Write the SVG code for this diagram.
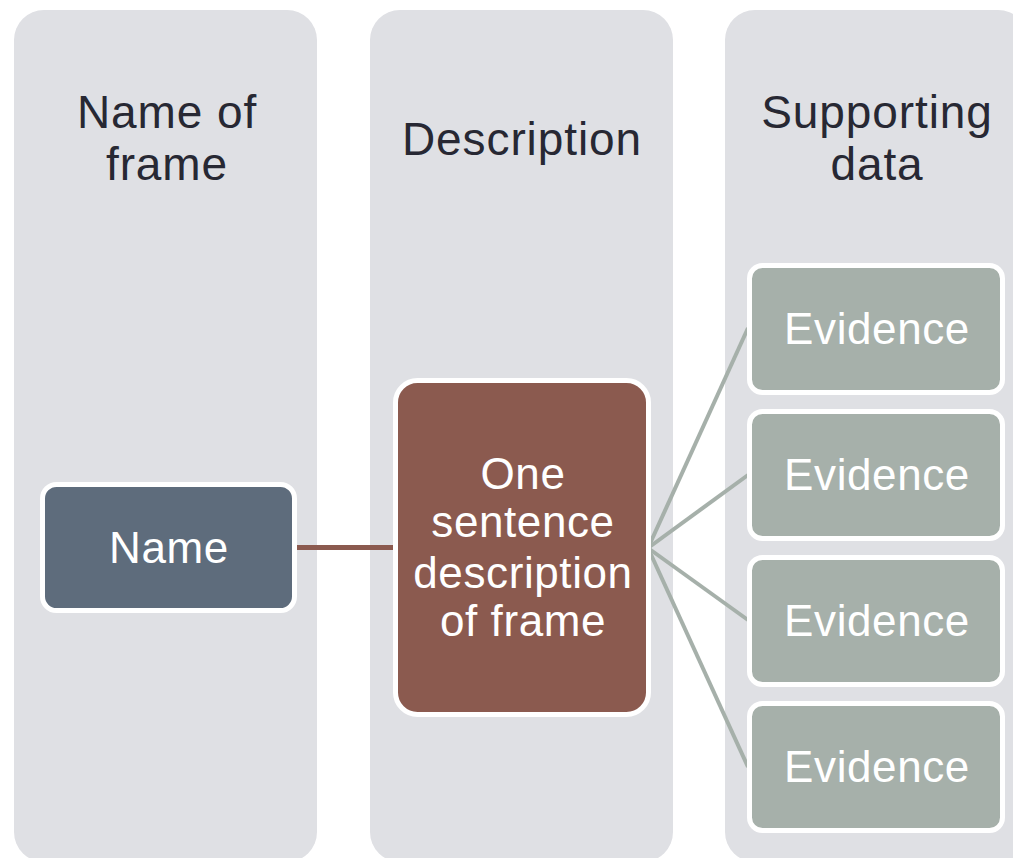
<svg xmlns="http://www.w3.org/2000/svg" width="1013" height="858" viewBox="0 0 1013 858">
<style>
.col{fill:#dfe0e4}
.hdr{font-family:"Liberation Sans",Arial,sans-serif;font-size:46px;letter-spacing:0.9px;fill:#272833;text-anchor:middle}
.lbl{font-family:"Liberation Sans",Arial,sans-serif;font-size:44px;letter-spacing:0.6px;fill:#ffffff;text-anchor:middle}
.box{stroke:#ffffff;stroke-width:5}
.name{fill:#5e6c7c}
.desc{fill:#8b5a4f}
.ev{fill:#a6b0aa}
</style>
<rect width="1013" height="858" fill="#ffffff"/>
<g id="col-name">
<rect class="col" x="14" y="10" width="303" height="852" rx="30"/>
<text class="hdr" x="167" y="128">Name of</text>
<text class="hdr" x="167" y="180">frame</text>
</g>
<g id="col-description">
<rect class="col" x="370" y="10" width="303" height="852" rx="30"/>
<text class="hdr" x="522" y="155">Description</text>
</g>
<g id="col-supporting">
<rect class="col" x="725" y="10" width="303" height="852" rx="30"/>
<text class="hdr" x="877" y="128">Supporting</text>
<text class="hdr" x="877" y="180">data</text>
</g>
<g id="connectors" fill="none">
<line x1="296" y1="547.5" x2="394" y2="547.5" stroke="#8b5a4f" stroke-width="5"/>
<g stroke="#a6b0aa" stroke-width="4">
<line x1="648" y1="548" x2="748" y2="328"/>
<line x1="648" y1="548" x2="748" y2="475"/>
<line x1="648" y1="548" x2="748" y2="620"/>
<line x1="648" y1="548" x2="748" y2="767"/>
</g>
</g>
<g id="node-name">
<rect class="box name" x="42.5" y="484.5" width="252" height="126" rx="14"/>
<text class="lbl" x="169" y="563">Name</text>
</g>
<g id="node-desc">
<rect class="box desc" x="395.5" y="380.5" width="253" height="334" rx="22"/>
<text class="lbl" x="523" y="489">One</text>
<text class="lbl" x="523" y="537">sentence</text>
<text class="lbl" x="523" y="588">description</text>
<text class="lbl" x="523" y="636">of frame</text>
</g>
<g id="node-ev1">
<rect class="box ev" x="749.5" y="265.5" width="253" height="127" rx="13"/>
<text class="lbl" x="877" y="344">Evidence</text>
</g>
<g id="node-ev2">
<rect class="box ev" x="749.5" y="411.5" width="253" height="127" rx="13"/>
<text class="lbl" x="877" y="490">Evidence</text>
</g>
<g id="node-ev3">
<rect class="box ev" x="749.5" y="557.5" width="253" height="127" rx="13"/>
<text class="lbl" x="877" y="636">Evidence</text>
</g>
<g id="node-ev4">
<rect class="box ev" x="749.5" y="703.5" width="253" height="127" rx="13"/>
<text class="lbl" x="877" y="782">Evidence</text>
</g>
</svg>
